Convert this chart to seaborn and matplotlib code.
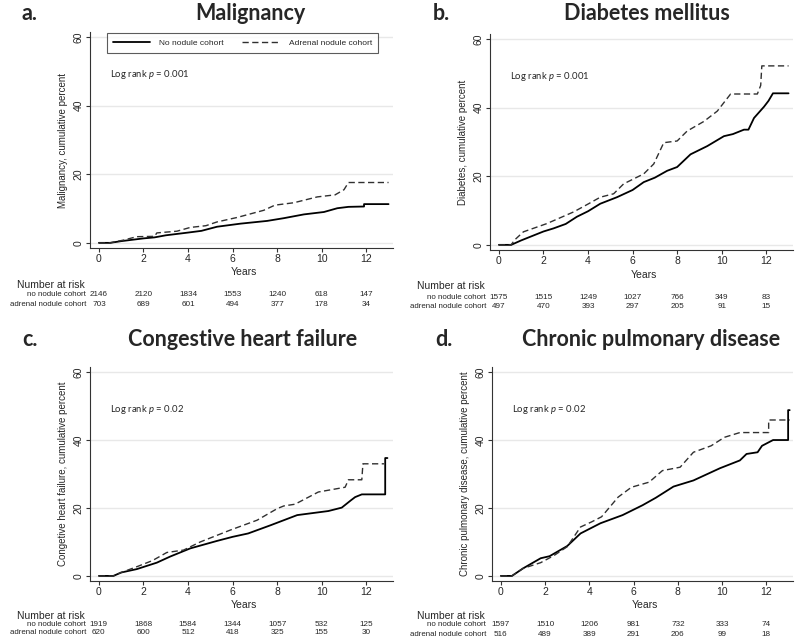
import matplotlib
matplotlib.use("Agg")
import matplotlib.pyplot as plt
import matplotlib.transforms as mtransforms
import seaborn as sns

# cumulative percent curves, vertices
mal_no_x = [0, 0.5, 1.0, 2.0, 2.5, 3.0, 4.0, 4.6, 5.3, 6.35, 7.55, 8.3, 9.2, 10.1, 10.7, 11.2, 11.9, 11.9, 13.0]
mal_no_y = [0, 0, 0.5, 1.3, 1.6, 2.2, 3.0, 3.5, 4.7, 5.6, 6.4, 7.2, 8.3, 9.0, 10.1, 10.5, 10.6, 11.3, 11.3]
mal_ad_x = [0, 0.5, 1.1, 1.7, 2.5, 2.6, 3.5, 4.1, 4.8, 5.3, 6.2, 7.4, 7.9, 8.75, 9.8, 10.6, 11.0, 11.2, 13.0]
mal_ad_y = [0, 0, 0.8, 1.8, 1.9, 2.9, 3.4, 4.5, 5.0, 6.1, 7.4, 9.5, 11.0, 11.7, 13.4, 14.0, 15.5, 17.6, 17.6]

dm_no_x = [0, 0.55, 1.0, 2.0, 2.45, 3.0, 3.5, 4.0, 4.55, 5.3, 6.0, 6.5, 7.0, 7.55, 8.0, 8.6, 9.35, 10.1, 10.5, 11.0, 11.2, 11.45, 11.9, 12.1, 12.3, 13.0]
dm_no_y = [0, 0, 1.3, 3.9, 4.8, 6.1, 8.2, 9.8, 12.0, 13.9, 16.0, 18.3, 19.6, 21.6, 22.7, 26.4, 28.8, 31.7, 32.3, 33.6, 33.6, 37.0, 40.3, 42.0, 44.2, 44.2]
dm_ad_x = [0, 0.55, 0.7, 1.1, 2.15, 3.35, 4.0, 4.55, 5.15, 5.6, 6.5, 6.95, 7.4, 8.0, 8.45, 9.2, 9.8, 10.4, 11.6, 11.75, 11.8, 13.0]
dm_ad_y = [0, 0, 1.4, 3.8, 6.2, 9.6, 11.9, 13.9, 14.9, 17.8, 20.7, 23.6, 29.8, 30.3, 33.2, 36.0, 39.0, 44.0, 44.0, 46.5, 52.2, 52.2]

chf_no_x = [0, 0.65, 1.0, 1.7, 2.6, 3.2, 4.1, 5.3, 6.0, 6.7, 7.7, 8.9, 10.3, 10.9, 11.3, 11.5, 11.8, 12.85, 12.85, 12.95]
chf_no_y = [0, 0, 1.0, 2.0, 3.9, 5.7, 8.1, 10.3, 11.5, 12.5, 14.9, 17.9, 19.1, 20.1, 22.2, 23.2, 24.0, 24.0, 34.7, 34.7]
chf_ad_x = [0, 0.65, 1.0, 1.7, 2.4, 3.05, 3.8, 4.55, 5.9, 7.1, 8.0, 8.3, 8.8, 9.85, 11.05, 11.2, 11.8, 11.85, 12.8]
chf_ad_y = [0, 0, 1.0, 2.7, 4.5, 6.9, 7.6, 10.0, 13.5, 16.4, 19.8, 20.6, 21.1, 24.7, 26.1, 28.3, 28.3, 33.0, 33.0]

cpd_no_x = [0, 0.5, 1.0, 1.8, 2.2, 3.0, 3.6, 4.5, 5.5, 6.4, 7.0, 7.8, 8.7, 9.9, 10.8, 11.1, 11.6, 11.8, 12.3, 12.98, 12.98, 13.05]
cpd_no_y = [0, 0, 2.2, 5.2, 5.8, 8.8, 12.5, 15.5, 17.9, 20.8, 23.0, 26.3, 28.1, 31.7, 34.0, 35.9, 36.4, 38.3, 40.0, 40.0, 48.8, 48.8]
cpd_ad_x = [0, 0.5, 1.0, 1.8, 2.4, 3.0, 3.6, 4.1, 4.55, 5.3, 5.9, 6.7, 7.3, 8.1, 8.7, 9.5, 10.1, 10.8, 12.1, 12.1, 13.05]
cpd_ad_y = [0, 0, 2.2, 3.9, 6.0, 8.6, 14.4, 15.9, 17.4, 23.2, 26.1, 27.6, 31.0, 32.0, 36.4, 38.3, 40.8, 42.2, 42.2, 45.9, 45.9]

# number at risk at years 0, 2, ..., 12
risk_years = [0, 2, 4, 6, 8, 10, 12]
mal_risk_no = [2146, 2120, 1834, 1553, 1240, 618, 147]
mal_risk_ad = [703, 689, 601, 494, 377, 178, 34]
dm_risk_no = [1575, 1515, 1249, 1027, 766, 349, 83]
dm_risk_ad = [497, 470, 393, 297, 205, 91, 15]
chf_risk_no = [1919, 1868, 1584, 1344, 1057, 532, 125]
chf_risk_ad = [620, 600, 512, 418, 325, 155, 30]
cpd_risk_no = [1597, 1510, 1206, 981, 732, 333, 74]
cpd_risk_ad = [516, 489, 389, 291, 206, 99, 18]

titles = ["Malignancy", "Diabetes mellitus", "Congestive heart failure", "Chronic pulmonary disease"]
letters = ["a.", "b.", "c.", "d."]
ylabels = ["Malignancy, cumulative percent", "Diabetes, cumulative percent",
           "Congetive heart failure, cumulative percent", "Chronic pulmonary disease, cumulative percent"]
pvals = ["0.001", "0.001", "0.02", "0.02"]

sns.set_style("white")
plt.rcParams["font.family"] = ["Liberation Sans", "DejaVu Sans"]
plt.rcParams["mathtext.fontset"] = "custom"
plt.rcParams["mathtext.rm"] = "Lato"
plt.rcParams["mathtext.it"] = "Lato:italic"

W, H = 800, 644
fig = plt.figure(figsize=(8, 6.44), dpi=100)

def px_rect(left, top, right, bottom):
    return [left / W, 1 - bottom / H, (right - left) / W, (bottom - top) / H]

# axes boxes in pixels and the y pixel rows of the text under each panel
boxes = [(90, 32, 393, 248), (490, 34, 793, 250), (90, 367, 393, 581), (492, 367, 793, 581)]
text_rows = [(272, 285, 295, 305), (275, 286, 298, 307), (605, 616, 625, 633), (605, 616, 625, 634)]
curves = [(mal_no_x, mal_no_y, mal_ad_x, mal_ad_y), (dm_no_x, dm_no_y, dm_ad_x, dm_ad_y),
          (chf_no_x, chf_no_y, chf_ad_x, chf_ad_y), (cpd_no_x, cpd_no_y, cpd_ad_x, cpd_ad_y)]
risks = [(mal_risk_no, mal_risk_ad), (dm_risk_no, dm_risk_ad), (chf_risk_no, chf_risk_ad), (cpd_risk_no, cpd_risk_ad)]
title_x = [250, 647, 243, 651]
letter_x = [22, 433, 22, 435]
head_y = [13, 13, 339, 339]

for i in range(4):
    l, t, r, b = boxes[i]
    ax = fig.add_axes(px_rect(l, t, r, b))
    nx, ny, ax_x, ax_y = curves[i]
    sns.lineplot(x=nx, y=ny, ax=ax, color="black", lw=1.3, estimator=None, sort=False,
                 label="No nodule cohort", legend=(i == 0))
    sns.lineplot(x=ax_x, y=ax_y, ax=ax, color="#303030", lw=1.0, linestyle=(0, (4.5, 2.5)),
                 estimator=None, sort=False, label="Adrenal nodule cohort", legend=(i == 0))
    ax.set_xlim(-0.4, 13.2)
    ax.set_ylim(-1.5, 61.5)
    ax.set_xticks(risk_years)
    ax.set_yticks([0, 20, 40, 60])
    ax.yaxis.grid(True, color="#e8e8e8", lw=1.0)
    ax.set_axisbelow(True)
    for s in ["top", "right"]:
        ax.spines[s].set_visible(False)
    for s in ["left", "bottom"]:
        ax.spines[s].set_color("#333333")
        ax.spines[s].set_linewidth(0.8)
    ax.tick_params(axis="both", direction="out", length=3, width=0.8, color="#333333",
                   labelsize=7.5, pad=1.5, left=True, bottom=True)
    plt.setp(ax.get_yticklabels(), rotation=90, va="center")
    ax.set_xlabel("")
    ax.set_ylabel(ylabels[i], fontsize=7, labelpad=4)
    ax.text(0.5, 49, "Log rank $p$ = " + pvals[i], fontsize=6.8, ha="left", va="center",
            family=["Lato", "DejaVu Sans"])

    if i == 0:
        leg = ax.legend(loc="center", bbox_to_anchor=(0.503, 0.949), ncol=2, fontsize=6,
                        frameon=True, fancybox=False, edgecolor="#333333", handlelength=4.5,
                        columnspacing=2.2, borderpad=0.7, handletextpad=1.1)
        leg.get_frame().set_linewidth(0.8)

    # titles
    fig.text(title_x[i] / W, 1 - head_y[i] / H, titles[i], fontsize=15.5, fontweight="bold",
             ha="center", va="center", family=["Lato", "DejaVu Sans"])
    fig.text(letter_x[i] / W, 1 - head_y[i] / H, letters[i], fontsize=15.5, fontweight="bold",
             ha="left", va="center", family=["Lato", "DejaVu Sans"])

    # Years label and number at risk table
    yr, nar, row1, row2 = text_rows[i]
    trans = mtransforms.blended_transform_factory(ax.transData, fig.transFigure)
    ax.text(6.5, 1 - yr / H, "Years", transform=trans, fontsize=7.5, ha="center", va="center")
    off = 0 if i % 2 == 0 else 400
    fig.text((17 + off) / W, 1 - nar / H, "Number at risk", fontsize=7.5, ha="left", va="center")
    fig.text((86 + off) / W, 1 - row1 / H, "no nodule cohort", fontsize=5.7, ha="right", va="center")
    fig.text((86 + off) / W, 1 - row2 / H, "adrenal nodule cohort", fontsize=5.7, ha="right", va="center")
    rn, ra = risks[i]
    for k in range(len(risk_years)):
        ax.text(risk_years[k], 1 - row1 / H, str(rn[k]), transform=trans, fontsize=5.9,
                ha="center", va="center")
        ax.text(risk_years[k], 1 - row2 / H, str(ra[k]), transform=trans, fontsize=5.9,
                ha="center", va="center")

fig.savefig("out.png", dpi=100, facecolor="white")
